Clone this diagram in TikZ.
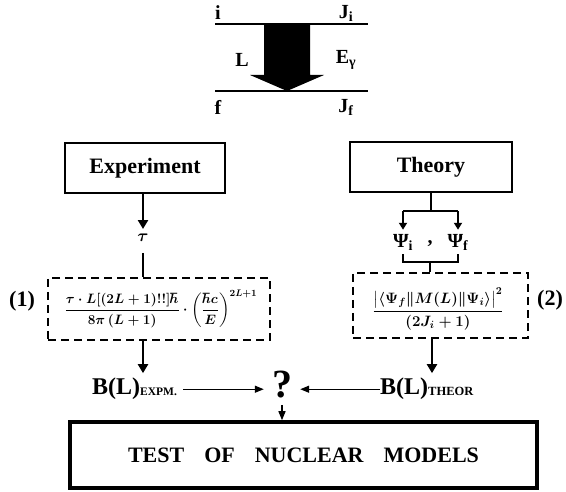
\RequirePackage{fix-cm}
\documentclass[tikz,border=0pt]{standalone}
\usepackage{amsmath}
\usepackage{fontspec}
\setmainfont{Liberation Serif}
\usetikzlibrary{arrows.meta}
\newcommand{\myformone}{$\displaystyle\frac{\tau\cdot L[(2L+1)!!]\hbar}{8\pi\,(L+1)}\cdot\left(\frac{\hbar c}{E}\right)^{2L+1}$}
\newcommand{\myformtwo}{$\displaystyle\frac{\bigl|\langle\Psi_f\Vert M(L)\Vert\Psi_i\rangle\bigr|^2}{(2J_i+1)}$}
\begin{document}
\begin{tikzpicture}[x=1pt,y=-1pt,
  lbl/.style={font=\bfseries\fontsize{20}{22}\selectfont, inner sep=0pt},
  mainbox/.style={draw, line width=2.5pt, inner sep=0pt, font=\bfseries\fontsize{22}{24}\selectfont},
  dbox/.style={draw, line width=1.8pt, dash pattern=on 8pt off 5pt, inner sep=0pt},
  frm/.style={font=\boldmath\fontsize{13.6}{16}\selectfont, inner sep=0pt},
  thickarrow/.style={line width=2.8pt, -{Triangle[length=9pt,width=10pt]}},
  thinarrow/.style={line width=1.3pt, -{Triangle[length=9pt,width=7pt]}},
  conn/.style={line width=2pt},
]
\useasboundingbox (0,0) rectangle (566,492);

% level scheme
\draw[line width=2.2pt] (215,24) -- (368,24);
\draw[line width=2.2pt] (215,91) -- (368,91);
\fill (264,24) -- (310,24) -- (310,75) -- (324,75) -- (287,91) -- (250,75) -- (264,75) -- cycle;
\node[lbl] (li) at (218,13) {i};
\node[lbl] (lji) at (346,13) {J\textsubscript{i}};
\node[lbl] (lL) at (242,60) {L};
\node[lbl] (lE) at (346,60) {E\textsubscript{γ}};
\node[lbl] (lf) at (218,107) {f};
\node[lbl] (ljf) at (346,107) {J\textsubscript{f}};

% boxes
\node[mainbox, minimum width=160pt, minimum height=50pt] (exp) at (145,168) {Experiment};
\node[mainbox, minimum width=162pt, minimum height=50pt] (th) at (431,167) {Theory};

% experiment branch
\node[font=\boldmath\fontsize{17}{18}\selectfont, inner sep=1pt] (tau) at (143,238) {$\tau$};
\draw[thickarrow] (exp.south -| tau) -- ([yshift=4pt]tau.north);

\node[dbox, minimum width=222pt, minimum height=62pt] (d1) at (159,309) {};
\node[frm] (f1) at (161,309) {\myformone};
\draw[conn] ([yshift=-10pt]tau.south) -- (d1.north -| tau);
\node[lbl, font=\bfseries\fontsize{22}{24}\selectfont] (n1) at (22,301) {(1)};

\node[inner sep=0pt, anchor=base west, font=\bfseries\fontsize{24}{26}\selectfont] (bexp) at (92,395) {B(L)\raisebox{-1pt}{\fontsize{11.5}{12}\selectfont EXPM.}};
\draw[thickarrow] (d1.south -| tau) -- ([yshift=5pt]bexp.north -| tau);

% theory branch
\node[lbl] (psii) at (403,242) {Ψ\textsubscript{i}};
\node[lbl] (comma) at (430,244) {,};
\node[lbl] (psif) at (458,242) {Ψ\textsubscript{f}};
\draw[conn, line width=2.5pt] (th.south) -- ++(0,18) coordinate (tb);
\draw[conn, line width=2.5pt] (tb -| psii) -- (tb -| psif);
\draw[line width=2.5pt, -{Triangle[length=7pt,width=8pt]}] (tb -| psii) -- ([yshift=4pt]psii.north);
\draw[line width=2.5pt, -{Triangle[length=7pt,width=8pt]}] (tb -| psif) -- ([yshift=4pt]psif.north);
\draw[conn] ([yshift=-4pt]psii.south) -- ++(0,8) coordinate (bl) -- (bl -| psif.south) -- ([yshift=-4pt]psif.south);
\node[dbox, minimum width=175pt, minimum height=65pt] (d2) at (440.5,305.5) {};
\draw[conn] (bl -| comma) -- (d2.north -| comma);
\node[frm, font=\boldmath\fontsize{15}{18}\selectfont] (f2) at (438,309) {\myformtwo};
\node[lbl, font=\bfseries\fontsize{22}{24}\selectfont] (n2) at (550,300) {(2)};

\node[inner sep=0pt, anchor=base west, font=\bfseries\fontsize{24}{26}\selectfont] (bth) at (380,395) {B(L)\raisebox{-1pt}{\fontsize{12.5}{13}\selectfont THEOR}};
\coordinate (c2) at (432,338);
\draw[thickarrow] (d2.south -| c2) -- ([yshift=5pt]bth.north -| c2);

% question mark and result
\node[inner sep=0pt, anchor=base, font=\bfseries\fontsize{40}{44}\selectfont] (q) at (282,398) {?};
\draw[thinarrow] ([xshift=6pt]bexp.east) -- ([xshift=-8pt]q.west |- bexp.east);
\draw[thinarrow] (bth.west) -- ([xshift=8pt]q.east |- bth.west);

\node[draw, line width=3.5pt, minimum width=467pt, minimum height=66pt, inner sep=0pt,
  font=\bfseries\fontsize{22}{24}\selectfont] (test) at (303.5,455)
  {TEST\hspace{20pt}OF\hspace{20pt}NUCLEAR\hspace{20pt}MODELS\hspace{29pt}};
\draw[thinarrow] ([yshift=-6pt]q.south) -- (test.north -| q);
\end{tikzpicture}
\end{document}
